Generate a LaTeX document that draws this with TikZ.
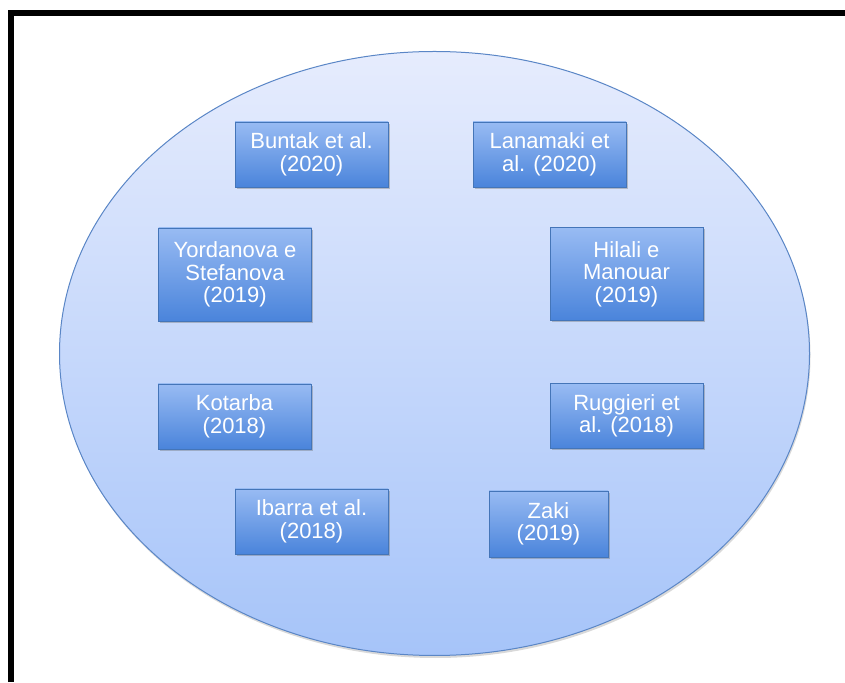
\documentclass[tikz,border=0pt]{standalone}
\usepackage{fontspec}
\setmainfont{Liberation Sans}
\usetikzlibrary{shadows}
\definecolor{ellTop}{HTML}{E6ECFD}
\definecolor{ellBot}{HTML}{A6C4F9}
\definecolor{ellLine}{HTML}{5A86C6}
\definecolor{boxTop}{HTML}{98BBF3}
\definecolor{boxBot}{HTML}{4A84DB}
\definecolor{boxLine}{HTML}{4475B8}
\tikzset{
  refbox/.style={draw=boxLine, line width=0.8pt, top color=boxTop, bottom color=boxBot,
    text=white, align=center, inner sep=0pt, minimum width=153pt, minimum height=65pt,
    font=\fontsize{22}{22.5}\selectfont,
    drop shadow={shadow xshift=1.5pt, shadow yshift=-2pt, opacity=0.35, fill=black!60}},
  tallbox/.style={refbox, minimum height=93pt},
  frameline/.style={line width=6pt, black}
}
\begin{document}
\begin{tikzpicture}[x=1pt,y=1pt]
\useasboundingbox (0,0) rectangle (845,682);
% outer frame (top and left edges)
\coordinate (fa) at (11,0);
\coordinate (fb) at (11,669);
\coordinate (fc) at (845,669);
\draw[frameline] (fa) -- (fb) -- (fc);
% large ellipse container
\shade[top color=ellTop, bottom color=ellBot, draw=ellLine, line width=1pt,
  drop shadow={shadow xshift=1pt, shadow yshift=-2.5pt, opacity=0.3}]
  (434.5,328.5) ellipse [x radius=375, y radius=302];
% study boxes
\node[refbox] (buntak) at (311.5,527.5) {Buntak et al.\\(2020)};
\node[refbox] (lanamaki) at (549.5,527.5) {Lanamaki et\\al. (2020)};
\node[tallbox] (yordanova) at (235,407.5) {Yordanova e\\Stefanova\\(2019)};
\node[tallbox] (hilali) at (626.5,408) {Hilali e\\Manouar\\(2019)};
\node[refbox] (kotarba) at (234.5,265.5) {Kotarba\\(2018)};
\node[refbox] (ruggieri) at (626.5,266) {Ruggieri et\\al. (2018)};
\node[refbox] (ibarra) at (311.5,160.5) {Ibarra et al.\\(2018)};
\node[refbox, minimum width=119pt, minimum height=66pt] (zaki) at (548.5,158) {Zaki\\(2019)};
\end{tikzpicture}
\end{document}
